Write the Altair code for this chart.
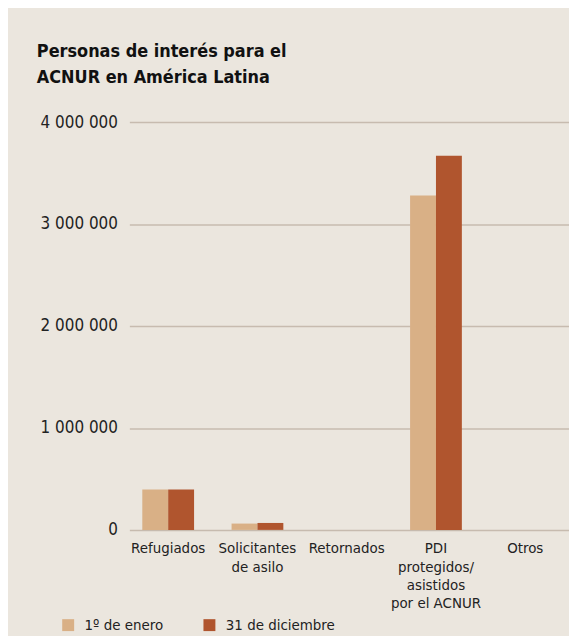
import altair as alt
import pandas as pd

categories = ["Refugiados", "Solicitantes\nde asilo", "Retornados",
              "PDI\nprotegidos/\nasistidos\npor el ACNUR", "Otros"]
series = ["1º de enero", "31 de diciembre"]
jan_values = [395000, 62000, 0, 3280000, 0]
dec_values = [397000, 68000, 0, 3670000, 0]
y_ticks = [0, 1000000, 2000000, 3000000, 4000000]
colors = ["#d9b086", "#b0552e"]

rows = []
for c, j, d in zip(categories, jan_values, dec_values):
    rows.append({"cat": c, "serie": series[0], "valor": j})
    rows.append({"cat": c, "serie": series[1], "valor": d})
df = pd.DataFrame(rows)

FONT = "Liberation Sans Narrow, DejaVu Sans Condensed, sans-serif"

chart = alt.Chart(df).mark_bar().encode(
    x=alt.X("cat:N", sort=categories, title=None,
            scale=alt.Scale(paddingInner=0.42, paddingOuter=0.1727, align=0.42),
            axis=alt.Axis(labelAngle=0, domain=False, ticks=False,
                          labelExpr="split(datum.label, '\\n')",
                          labelFont=FONT, labelFontSize=15, labelColor="#222222",
                          labelPadding=11, labelLineHeight=18.5, labelBaseline="top",
                          labelLimit=200)),
    xOffset=alt.XOffset("serie:N", sort=series),
    y=alt.Y("valor:Q", title=None,
            scale=alt.Scale(domain=[0, 4000000], nice=False),
            axis=alt.Axis(values=y_ticks, domain=False, ticks=False,
                          labelExpr="replace(format(datum.value, ','), regexp(',', 'g'), ' ')",
                          labelFont=FONT, labelFontSize=17, labelColor="#222222",
                          labelPadding=12, grid=True, gridColor="#c7bbaf",
                          gridWidth=1.5)),
    color=alt.Color("serie:N", sort=series,
                    scale=alt.Scale(domain=series, range=colors),
                    legend=alt.Legend(title=None, orient="none", direction="horizontal",
                                      legendX=-69, legendY=498, symbolType="square",
                                      symbolSize=144, symbolStrokeWidth=0,
                                      labelFont=FONT, labelFontSize=15,
                                      labelColor="#222222", labelOffset=9,
                                      columnPadding=38, padding=0)),
).properties(
    width=442,
    height=410,
    autosize=alt.AutoSizeParams(type="none"),
    padding={"left": 122, "top": 113, "right": 0, "bottom": 105},
    background="#ebe6de",
    title=alt.TitleParams(
        text=["Personas de interés para el", "ACNUR en América Latina"],
        anchor="start", frame="group", dx=-93, dy=-4,
        font=FONT, fontSize=18, fontWeight="bold", color="#111111",
        lineHeight=26, baseline="bottom"),
).configure_view(stroke=None)

chart.save("out.html", embed_options={"renderer": "svg", "actions": False})
